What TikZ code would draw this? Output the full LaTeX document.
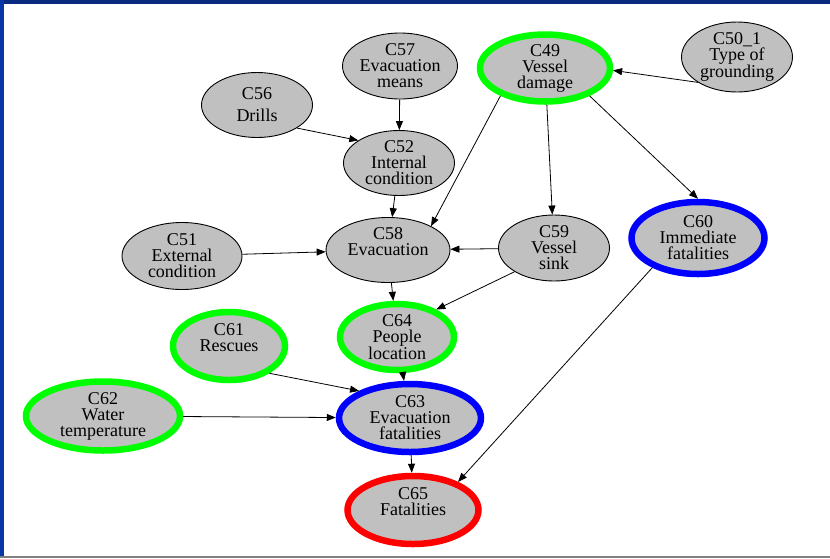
\documentclass[tikz,border=0pt]{standalone}
\usepackage{fontspec}
\setmainfont{Liberation Serif}
\usepackage{tikz}
\usetikzlibrary{arrows.meta,shapes.geometric}
\definecolor{barblue}{RGB}{10,42,128}
\definecolor{sideblue}{RGB}{8,56,168}
\definecolor{nodegray}{RGB}{192,192,192}
\tikzstyle{var}=[ellipse,fill=nodegray,align=center,inner xsep=-4pt,inner ysep=-4pt,
    font=\fontsize{18}{16}\selectfont]
\tikzstyle{plain}=[var,draw=black,line width=0.9pt]
\tikzstyle{greenring}=[var,draw={rgb,255:red,0;green,255;blue,0},line width=6.5pt]
\tikzstyle{bluering}=[var,draw={rgb,255:red,0;green,0;blue,255},line width=6.5pt]
\tikzstyle{redring}=[var,draw={rgb,255:red,255;green,0;blue,0},line width=6.5pt]
\tikzstyle{arr} = [draw,line width=0.8pt,-{Triangle[length=9pt,width=7pt]}]

\begin{document}
\begin{tikzpicture}[x=1pt,y=-1pt]
    \useasboundingbox (0,0) rectangle (830,558);
    \fill[barblue] (0,0) rectangle (830,3.5);
    \fill[sideblue] (0,0) rectangle (3.5,558);
    \fill[gray] (0,556) rectangle (830,558);

    \foreach \pos/\name/\sty/\w/\h/\val in {{(400,66)/c57/plain/115/66/C57\\Evacuation\\means},
    {(545,68)/c49/greenring/130/67/C49\\Vessel\\damage},
    {(737,57)/c50/plain/111/70/C50\_1\\Type of\\grounding},
    {(257,105)/c56/plain/111/65/C56\\[6pt]Drills},
    {(399,163)/c52/plain/111/65/C52\\Internal\\condition},
    {(182,256)/c51/plain/120/67/C51\\External\\condition},
    {(388,250)/c58/plain/124/65/C58\\Evacuation\\\mbox{}},
    {(554,248)/c59/plain/111/66/C59\\Vessel\\sink},
    {(698,238)/c60/bluering/133/72/C60\\Immediate\\fatalities},
    {(229,346)/c61/greenring/112/68/C61\\Rescues\\\mbox{}},
    {(397,337)/c64/greenring/114/66/C64\\People\\location},
    {(103,416)/c62/greenring/154/69/C62\\Water\\temperature},
    {(410,418)/c63/bluering/142/68/C63\\Evacuation\\fatalities},
    {(413,510)/c65/redring/131/68/C65\\Fatalities\\\mbox{}}}
        \node[\sty,minimum width=\w pt,minimum height=\h pt] (\name) at \pos {\val};

    \foreach \source/\dest in {c57/c52,c56.-30/c52.151,c49.-148/c58.29,c49/c59,
    c49.-32/c60.north,c50.-147/c49.-2,c52/c58,c51/c58,c59/c58,c58/c64,
    c59.-149/c64.35,c64/c63,c61.-34/c63.152,c62/c63,c63/c65,c60.-147/c65.32}
        \path[arr] (\source) -- (\dest);
\end{tikzpicture}
\end{document}
